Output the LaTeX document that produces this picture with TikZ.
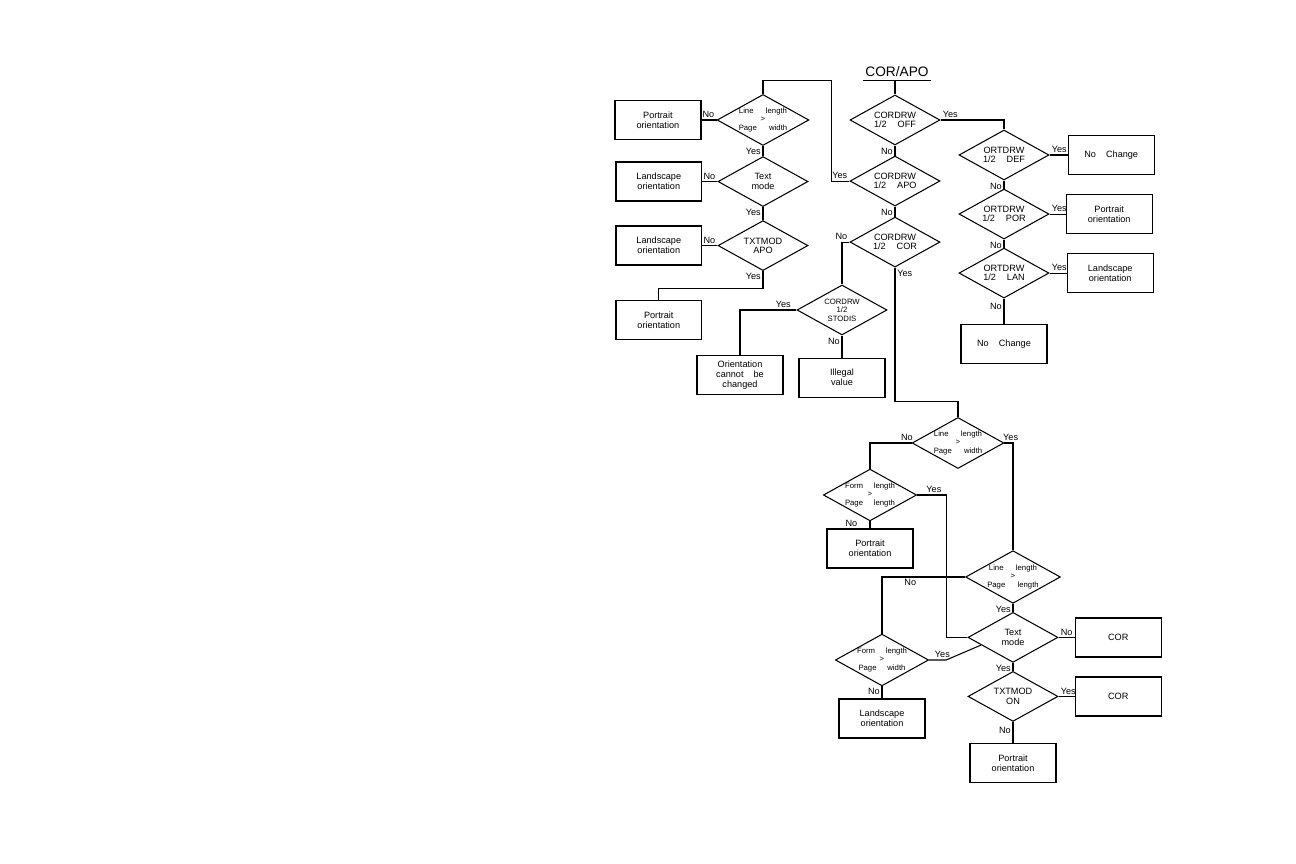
\documentclass[tikz,border=0pt]{standalone}
\usepackage{fontspec}
\setmainfont{Liberation Sans}
\usetikzlibrary{positioning,shapes.geometric,calc}

\begin{document}
\begin{tikzpicture}[x=0.02cm,y=-0.02cm,line width=0.6pt,
                    dec node/.style={diamond,draw,shape aspect=1.8,minimum width=1.8cm,minimum height=1cm,inner sep=0pt,align=center,font=\fontsize{5.2}{5.3}\selectfont},
                    small dec/.style={dec node,font=\fontsize{4.4}{4.8}\selectfont},
                    box node/.style={rectangle,draw,line width=0.8pt,minimum width=1.72cm,minimum height=0.78cm,inner sep=1pt,align=center,font=\fontsize{5.2}{5.7}\selectfont},
                    lbl/.style={inner sep=1pt,font=\fontsize{5.2}{6}\selectfont}]
  \useasboundingbox (0,0) rectangle (1296,864);

  \node[anchor=base,inner xsep=1pt,inner ysep=1.6pt,minimum width=1.34cm,font=\fontsize{7.8}{9}\selectfont] (top) at (897,77) {COR/APO};
  \draw (top.south west) -- (top.south east);

  % main column
  \node[dec node] (off) at (895,120) {CORDRW\\1/2\hspace{1.2em}OFF};
  \node[dec node] (apo) [below=0.2cm of off] {CORDRW\\1/2\hspace{1.2em}APO};
  \node[dec node] (cor) [below=0.2cm of apo] {CORDRW\\1/2\hspace{1.2em}COR};

  % right column
  \node[dec node] (def) at (1004,155) {ORTDRW\\1/2\hspace{1.2em}DEF};
  \node[dec node] (por) [below=0.16cm of def] {ORTDRW\\1/2\hspace{1.2em}POR};
  \node[dec node] (lan) [below=0.16cm of por] {ORTDRW\\1/2\hspace{1.2em}LAN};
  \node[box node] (nc1) [right=0.36cm of def] {No\hspace{1.1em}Change};
  \node[box node] (pt1) [right=0.32cm of por] {Portrait\\orientation};
  \node[box node] (ls1) [right=0.34cm of lan] {Landscape\\orientation};
  \node[box node] (nc2) [below=0.5cm of lan] {No\hspace{1.1em}Change};

  % left column
  \node[small dec] (lw1) at (763,120) {Line\hspace{1.6em}length\\>\\Page\hspace{1.6em}width};
  \node[dec node] (tm1) [below=0.2cm of lw1] {Text\\mode};
  \node[dec node] (txa) [below=0.26cm of tm1] {TXTMOD\\APO};
  \node[box node] (pt2) [left=0.3cm of lw1] {Portrait\\orientation};
  \node[box node] (ls2) [left=0.3cm of tm1] {Landscape\\orientation};
  \node[box node] (ls3) [left=0.3cm of txa] {Landscape\\orientation};
  \node[box node] (pt3) [below=0.68cm of ls3] {Portrait\\orientation};

  \node[small dec] (sto) at (842,310) {CORDRW\\1/2\\STODIS};
  \node[box node] (occ) at (740,375) {Orientation\\cannot\hspace{1.1em}be\\changed};
  \node[box node] (ill) [below=0.44cm of sto] {Illegal\\value};

  % lower part
  \node[small dec] (lw2) at (958,443) {Line\hspace{1.6em}length\\>\\Page\hspace{1.6em}width};
  \node[small dec] (fpl) at (870,495) {Form\hspace{1.4em}length\\>\\Page\hspace{1.4em}length};
  \node[box node] (pt4) [below=0.14cm of fpl] {Portrait\\orientation};
  \node[small dec] (lpl) at (1013,577) {Line\hspace{1.6em}length\\>\\Page\hspace{1.6em}length};
  \node[dec node] (tm2) [below=0.16cm of lpl] {Text\\mode};
  \node[dec node] (txo) [below=0.16cm of tm2] {TXTMOD\\ON};
  \node[box node] (cor1) [right=0.32cm of tm2] {COR};
  \node[box node] (cor2) [right=0.32cm of txo] {COR};
  \node[box node] (pt5) [below=0.42cm of txo] {Portrait\\orientation};
  \node[small dec] (fpw) at (882,660) {Form\hspace{1.4em}length\\>\\Page\hspace{1.4em}width};
  \node[box node] (ls4) [below=0.24cm of fpw] {Landscape\\orientation};

  % connectors
  \draw (top.south -| off.north) -- (off.north);
  \draw (off.south) -- (apo.north);
  \draw (apo.south) -- (cor.north);
  \draw (off.east) -| (def.north);
  \draw (def.south) -- (por.north);
  \draw (por.south) -- (lan.north);
  \draw (lan.south) -- (nc2.north);
  \draw (def.east) -- (nc1.west);
  \draw (por.east) -- (pt1.west);
  \draw (lan.east) -- (ls1.west);

  \draw (apo.west) -- ++(-18,0) |- ([yshift=0.26cm]lw1.north) -- (lw1.north);
  \draw (lw1.west) -- (pt2.east);
  \draw (tm1.west) -- (ls2.east);
  \draw (txa.west) -- (ls3.east);
  \draw (lw1.south) -- (tm1.north);
  \draw (tm1.south) -- (txa.north);
  \draw (txa.south) -- ++(0,17) -| (pt3.north);

  \draw (cor.west) -| (sto.north);
  \draw (sto.west) -| (occ.north);
  \draw[line width=1pt] (sto.south) -- (ill.north);

  \draw (cor.south) |- ([yshift=0.3cm]lw2.north) -- (lw2.north);
  \draw (lw2.west) -| (fpl.north);
  \draw (lw2.east) -| (lpl.north);
  \draw (fpl.south) -- (pt4.north);
  \draw (fpl.east) -- ++(29,0) |- (tm2.west);
  \draw (lpl.west) -| node[lbl,pos=0.33,below] {No} (fpw.north);
  \draw (lpl.south) -- (tm2.north);
  \draw (tm2.south) -- (txo.north);
  \draw (tm2.east) -- (cor1.west);
  \draw (txo.east) -- (cor2.west);
  \draw (txo.south) -- node[lbl,left,pos=0.4] {No} (pt5.north);
  \draw (fpw.east) -- ++(17,0) -- ($(tm2.west)!0.3!(tm2.south)$);
  \draw (fpw.south) -- (ls4.north);

  % branch labels
  \node[lbl,above right] at (off.east) {Yes};
  \node[lbl,below left] at (off.south) {No};
  \node[lbl,below left] at (apo.south) {No};
  \node[lbl,above left] at (apo.west) {Yes};
  \node[lbl,above left] at (cor.west) {No};
  \node[lbl,below right] at (cor.south) {Yes};
  \node[lbl,above right] at (def.east) {Yes};
  \node[lbl,below left] at (def.south) {No};
  \node[lbl,above right] at (por.east) {Yes};
  \node[lbl,below left] at (por.south) {No};
  \node[lbl,above right] at (lan.east) {Yes};
  \node[lbl,below left,yshift=-1.5pt] at (lan.south) {No};
  \node[lbl,above left] at (lw1.west) {No};
  \node[lbl,below left] at (lw1.south) {Yes};
  \node[lbl,above left] at (tm1.west) {No};
  \node[lbl,below left] at (tm1.south) {Yes};
  \node[lbl,above left] at (txa.west) {No};
  \node[lbl,below left] at (txa.south) {Yes};
  \node[lbl,above left,xshift=-2pt] at (sto.west) {Yes};
  \node[lbl,below left] at (sto.south) {No};
  \node[lbl,above left,xshift=2pt] at (lw2.west) {No};
  \node[lbl,above right,xshift=-2pt] at (lw2.east) {Yes};
  \node[lbl,above right,xshift=4pt] at (fpl.east) {Yes};
  \node[lbl,anchor=south east,xshift=-6pt] at (pt4.north) {No};
  \node[lbl,below left] at (lpl.south) {Yes};
  \node[lbl,above right] at (tm2.east) {No};
  \node[lbl,below left] at (tm2.south) {Yes};
  \node[lbl,above right] at (txo.east) {Yes};
  \node[lbl,above right,xshift=2pt] at (fpw.east) {Yes};
  \node[lbl,below left] at (fpw.south) {No};

\end{tikzpicture}
\end{document}
